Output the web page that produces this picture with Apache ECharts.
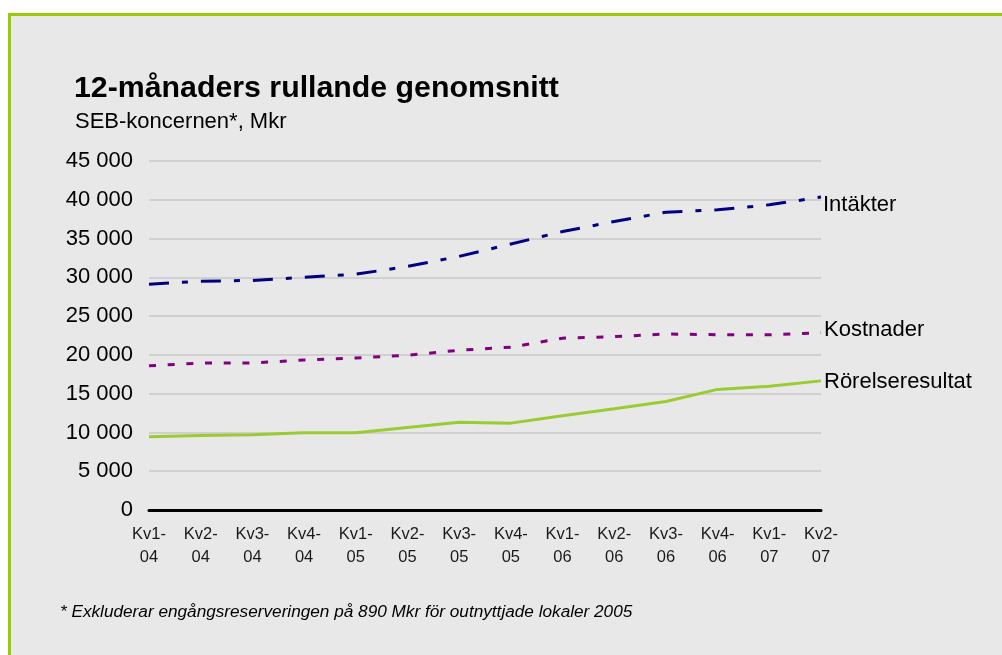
<!DOCTYPE html>
<html>
<head>
<meta charset="utf-8">
<script src="https://cdn.jsdelivr.net/npm/echarts@6/dist/echarts.min.js"></script>
<style>
html,body{margin:0;padding:0;background:#fff;}
#c{width:1002px;height:655px;}
</style>
</head>
<body>
<div id="c"></div>
<script>
const categories = ['Kv1-04','Kv2-04','Kv3-04','Kv4-04','Kv1-05','Kv2-05','Kv3-05','Kv4-05','Kv1-06','Kv2-06','Kv3-06','Kv4-06','Kv1-07','Kv2-07'];
const intakter = [29100, 29500, 29600, 30000, 30400, 31400, 32700, 34300, 35900, 37200, 38400, 38700, 39350, 40350];
const kostnader = [18600, 18950, 18950, 19350, 19600, 19950, 20600, 21000, 22150, 22350, 22700, 22600, 22600, 22850];
const rorelse = [9450, 9600, 9700, 9950, 9950, 10650, 11300, 11200, 12150, 13050, 14000, 15550, 15950, 16650];
const yTicks = [0, 5000, 10000, 15000, 20000, 25000, 30000, 35000, 40000, 45000];
const seriesNames = ['Intäkter', 'Kostnader', 'Rörelseresultat'];

const fmt = v => String(v).replace(/\B(?=(\d{3})+(?!\d))/g, ' ');
const FONT = '"Liberation Sans", Arial, sans-serif';

const chart = echarts.init(document.getElementById('c'), null, {renderer: 'canvas'});
chart.setOption({
  backgroundColor: '#ffffff',
  animation: false,
  graphic: [{
    type: 'rect', z: -10, silent: true,
    shape: {x: 9.5, y: 14.5, width: 1100, height: 700},
    style: {fill: '#e8e8e8', stroke: '#99cc00', lineWidth: 3}
  }],
  title: [
    {text: '12-månaders rullande genomsnitt', left: 74, top: 74, padding: 0,
     textStyle: {fontFamily: FONT, fontSize: 30.3, fontWeight: 'bold', color: '#000'}},
    {text: 'SEB-koncernen*, Mkr', left: 75, top: 111, padding: 0,
     textStyle: {fontFamily: FONT, fontSize: 22, fontWeight: 'normal', color: '#000'}},
    {text: '* Exkluderar engångsreserveringen på 890 Mkr för outnyttjade lokaler 2005', left: 60, top: 604, padding: 0,
     textStyle: {fontFamily: FONT, fontSize: 17.2, fontStyle: 'italic', fontWeight: 'normal', color: '#000'}}
  ],
  grid: {left: 149, right: 181, top: 161, bottom: 145, containLabel: false},
  xAxis: {
    type: 'category', data: categories, boundaryGap: false,
    axisLine: {lineStyle: {color: '#000', width: 3}},
    axisTick: {show: false},
    axisLabel: {
      fontFamily: FONT, fontSize: 16.5, color: '#1a1a1a', margin: 13, lineHeight: 23, interval: 0,
      formatter: v => v.replace('-', '-\n')
    },
    splitLine: {show: false}
  },
  yAxis: {
    type: 'value', min: yTicks[0], max: yTicks[yTicks.length - 1], interval: 5000,
    axisLine: {show: false}, axisTick: {show: false},
    axisLabel: {fontFamily: FONT, fontSize: 22, color: '#000', margin: 16, formatter: v => fmt(v)},
    splitLine: {lineStyle: {color: '#c8c8c8', width: 1.5}}
  },
  series: [
    {name: seriesNames[0], type: 'line', data: intakter, symbol: 'none',
     lineStyle: {color: '#000080', width: 3, type: [20, 13, 6, 13]},
     endLabel: {show: true, formatter: '{a}', fontFamily: FONT, fontSize: 22, color: '#000', distance: 2, offset: [0, 8]}},
    {name: seriesNames[1], type: 'line', data: kostnader, symbol: 'none',
     lineStyle: {color: '#800080', width: 3, type: [7, 11.7]},
     endLabel: {show: true, formatter: '{a}', fontFamily: FONT, fontSize: 22, color: '#000', distance: 3, offset: [0, -3]}},
    {name: seriesNames[2], type: 'line', data: rorelse, symbol: 'none',
     lineStyle: {color: '#99cc33', width: 3},
     endLabel: {show: true, formatter: '{a}', fontFamily: FONT, fontSize: 22, color: '#000', distance: 3, offset: [0, 1]}}
  ]
});
</script>
</body>
</html>
